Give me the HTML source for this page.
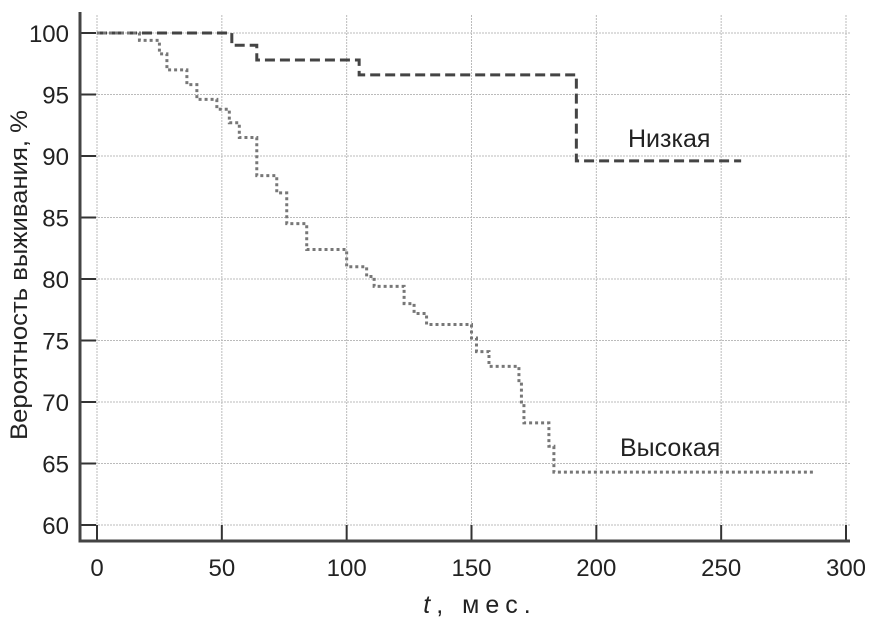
<!DOCTYPE html>
<html><head><meta charset="utf-8"><style>
body{margin:0;background:#fff;}
svg text{font-family:"Liberation Sans Narrow","Liberation Sans",sans-serif;fill:#222;}
</style></head><body>
<svg id="chart" width="878" height="623" viewBox="0 0 878 623" xmlns="http://www.w3.org/2000/svg">
<g id="grid"></g>
<g id="axes"></g>
<g id="series"></g>
<text x="628" y="147" font-size="25">Низкая</text>
<text x="620" y="456" font-size="25">Высокая</text>
<text x="480" y="613" font-size="25" text-anchor="middle" letter-spacing="6"><tspan font-style="italic">t</tspan>, мес.</text>
<text transform="translate(27,275) rotate(-90)" font-size="24" text-anchor="middle" textLength="330" lengthAdjust="spacingAndGlyphs">Вероятность выживания, %</text>
</svg>
<script>
const xTicks=[0,50,100,150,200,250,300];
const yTicks=[60,65,70,75,80,85,90,95,100];
const lowTimes=[0,54,64,105,192,258];
const lowValues=[100,99,97.8,96.6,89.6,89.6];
const highTimes=[0,17,25,28,36,40,48,53,57,64,72,76,84,100,108,111,123,127,132,150,152,157,169,170,171,181,183,287];
const highValues=[100,99.4,98.3,97.0,95.8,94.6,93.8,92.7,91.5,88.4,87.0,84.5,82.4,81.0,80.2,79.4,78.0,77.2,76.3,75.2,74.1,72.9,71.6,70.0,68.3,66.4,64.3,64.3];
const X=t=>97+t*(846-97)/300;
const Y=v=>33+(100-v)*(525-33)/40;
const NS="http://www.w3.org/2000/svg";
function mk(tag,parent,attrs){const e=document.createElementNS(NS,tag);for(const k in attrs)e.setAttribute(k,attrs[k]);parent.appendChild(e);return e;}
const grid=document.getElementById('grid'),axes=document.getElementById('axes'),series=document.getElementById('series');
xTicks.forEach(t=>{
 const g=mk('line',grid,{x1:X(t),x2:X(t),y1:15,y2:540,stroke:'#bbb','stroke-width':1,'stroke-dasharray':'2,1'});
 
 
 const tk=mk('line',axes,{x1:X(t),x2:X(t),y1:525,y2:540,stroke:'#333','stroke-width':2});
 
 
 const tx=mk('text',axes,{x:X(t),y:576,'font-size':24,'text-anchor':'middle'});
 tx.textContent=t;
 
 
});
yTicks.forEach(v=>{
 const g=mk('line',grid,{x1:80,x2:850,y1:Y(v),y2:Y(v),stroke:'#bbb','stroke-width':1,'stroke-dasharray':'2,1'});
 
 
 const tk=mk('line',axes,{x1:80,x2:96,y1:Y(v),y2:Y(v),stroke:'#333','stroke-width':2});
 
 
 const tx=mk('text',axes,{x:69,y:Y(v)+9,'font-size':24,'text-anchor':'end'});
 tx.textContent=v;
 
 
});
const ax=mk('path',axes,{d:'M80,12 V541 H850',fill:'none',stroke:'#444','stroke-width':3});


function stepPath(ts,vs){let d='M'+X(ts[0])+','+Y(vs[0]);for(let i=1;i<ts.length;i++){d+=' H'+X(ts[i])+' V'+Y(vs[i]);}return d;}
const lp=mk('path',series,{d:stepPath(lowTimes,lowValues),fill:'none',stroke:'#444','stroke-width':3,'stroke-dasharray':'10,5'});


const hp=mk('path',series,{d:stepPath(highTimes,highValues),fill:'none',stroke:'#777','stroke-width':3,'stroke-dasharray':'3,3'});


</script>
</body></html>
